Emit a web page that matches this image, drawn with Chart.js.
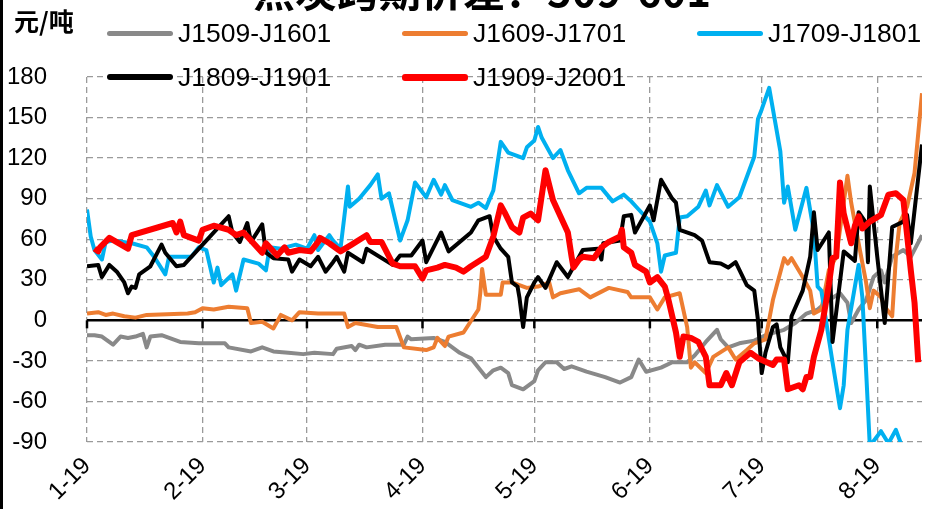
<!DOCTYPE html>
<html>
<head>
<meta charset="utf-8">
<script src="https://cdn.jsdelivr.net/npm/chart.js@4.4.1/dist/chart.umd.min.js"></script>
<style>
  body { margin: 0; background: #fff; }
  #wrap { position: relative; width: 926px; height: 509px; overflow: hidden; }
  #frame { position: absolute; left: 0; top: 0; width: 3px; height: 509px; background: #000; }
  #title { position: absolute; top: -42px; left: 0; width: 964px; text-align: center; line-height: 42px;
           font: bold 42px "Noto Sans CJK SC"; color: #000; white-space: nowrap; }
  #unit { position: absolute; left: 14px; top: 3px; font: bold 25px "Noto Sans CJK SC"; color: #000; line-height: 34px; }
  .leg { position: absolute; height: 30px; display: flex; align-items: center;
         font: 26.5px "Liberation Sans"; color: #000; white-space: nowrap; }
  .leg .line { display: inline-block; width: 66px; height: 5px; border-radius: 3px; margin-right: 5px; }
</style>
</head>
<body>
<div id="wrap">
  <canvas id="spreadChart" width="926" height="509"></canvas>
  <div id="frame"></div>
  <div id="title">焦炭跨期价差：509-601</div>
  <div id="unit">元/吨</div>
</div>
<script>
// x axis: days counted from Jan 19
const monthDays = [0, 31, 59, 90, 120, 151, 181, 212];
const monthLabels = ['1-19', '2-19', '3-19', '4-19', '5-19', '6-19', '7-19', '8-19'];

const seriesNames = ['J1509-J1601', 'J1609-J1701', 'J1709-J1801', 'J1809-J1901', 'J1909-J2001'];
const seriesColors = ['#898989', '#ED7D31', '#00B0F0', '#000000', '#FF0000'];

// J1509-J1601
const days1509 = [0,2,4,7,9,11,13,15,16,17,20,25,30,37,38,44,47,50,54,58,61,66,67,71,72,73,75,80,85,86,
  87,93,96,98,100,103,107,109,111,113,114,117,120,121,123,126,128,130,134,139,143,146,148,150,154,157,161,163,166,169,
  170,172,175,179,182,187,190,193,196,199,202,204,205,207,209,211,213,214,216,219,221,224];
const vals1509 = [-11,-11,-12,-18,-12,-13,-12,-10,-20,-12,-11,-16,-17,-17,-20,-23,-20,-23,-24,-25,-24,-25,-21,-19,-22,-18,-20,-18,-18,-12,
  -14,-13,-16,-20,-24,-28,-42,-37,-35,-39,-48,-51,-45,-37,-31,-31,-36,-34,-38,-42,-46,-42,-29,-38,-35,-31,-31,-26,-16,-7,
  -14,-20,-17,-15,-11,-7,-2,5,8,15,20,13,-2,8,15,32,37,28,47,52,47,63];

// J1609-J1701
const days1609 = [0,3,5,7,10,13,16,27,29,31,34,38,43,44,47,50,52,55,57,62,69,70,72,78,83,85,91,93,94,96,
  97,101,105,105.5,106,107,111,111.5,114,118,121,124,125,127,132,135,140,145,146,148,151,153,155,159,161,162,163,166,168,172,
  174,177,179,182,184,187,188,189,192,194,195,197,199,201,203,204,205,207,209,210,211,213,214,216,217,218,220,222,224];
const vals1609 = [5,6,4,5,3,2,4,5,6,9,8,10,9,-2,-1,-6,4,0,6,5,5,-5,-2,-5,-5,-20,-22,-20,-13,-19,
  -12,-9,8,20,38,19,19,28,28,24,25,28,17,20,23,17,24,21,17,17,17,8,17,20,-5,-35,-31,-39,-27,-20,
  -29,-22,-17,-14,15,46,42,46,32,22,5,8,37,47,87,107,87,57,28,9,22,17,10,3,47,72,84,109,168];

// J1709-J1801
const days1709 = [0,1,2,4,5,7,12,16,18,21,22,28,30,32,34,35,36,39,40,42,46,48,49,52,56,59,61,62,65,66,
  68,70,70.5,73,76,78,79,81,84,86,88,91,93,95,96,98,103,105,107,109,111,113,117,118,120,121,122,125,127,129,
  132,134,138,141,144,146,148,151,153,154,155,158,159,161,164,166,167,169,172,175,177,179,180,181,183,186,187,188,190,193,
  195,196,197,200,202,203,204,207,208,209,210,213,215,217,219];
const vals1709 = [82,62,52,45,58,59,57,54,47,34,47,47,54,52,28,39,26,34,22,45,42,37,54,53,56,53,63,52,63,59,
  53,99,84,90,100,108,90,94,59,74,102,91,104,93,100,89,84,87,83,96,132,124,120,128,133,143,135,120,126,111,
  94,98,98,88,93,88,82,73,57,36,48,50,76,77,84,96,85,100,84,91,106,121,149,156,172,125,87,99,67,98,
  65,25,22,-31,-65,-48,-7,41,17,-37,-93,-82,-91,-81,-96];

// J1809-J1901
const days1809 = [0,3,4,6,8,10,11,12,13,14,17,20,21,24,26,32,35,38,39,41,43,44,47,48,50,54,55,57,60,62,
  64,66,67,69,70,74,75,82,84,87,90,91,95,97,103,105,108,109,111,113,114,115.5,116,117,118,120,121,123,126,129,
  133,137,138,138.5,143,144,146,147,151,152,154,157,158,159,163,165,167,170,172,174,177,179,180,181,182,184,185,186,188,189,
  192,194,195,196,199,200,203,206,207,209,209.5,210,212,214,216,219,220,221,224];
const vals1809 = [40,41,32,41,36,28,20,25,24,34,40,56,50,40,41,59,68,77,65,58,72,58,71,50,46,45,36,45,40,47,
  36,43,47,36,50,43,53,41,48,48,59,43,65,51,65,74,77,62,53,47,28,25,17,-5,17,28,32,24,43,32,
  52,53,45,57,59,77,78,65,85,74,104,90,87,67,63,59,43,42,39,43,26,22,0,-39,-24,-5,-3,-20,-31,3,
  22,47,80,52,65,-16,51,44,80,72,43,99,47,-2,69,73,78,57,130];

// J1909-J2001
const days1909 = [2,3,3.5,6,11,12,23,24,25,26,30,31,34,38,40,42,44,47,48,51,53,54,57,60,62,62.5,65,68,71,75,
  76,79,82,84,88,90,91,94,96,99,101,103,107,109,111,112,114,116,117,119,121,123,125,127,129,130,130.5,132,133,136,
  138,140,143,143.5,144,146,147,150,151,153,155,156,157,158,159,160,162,164,166,167,170,171.5,173,175,178,180,184,185,187,188,
  191,192,193,194,195,197,199,200,201,202,203,205,206,207,208,210,213,215,217,219,221,222,223];
const vals1909 = [53,51,54,61,53,63,72,65,73,63,59,67,70,67,63,65,59,50,57,48,54,50,52,51,58,61,57,51,56,63,
  58,58,42,40,40,31,37,39,41,39,36,40,47,62,85,80,69,65,76,79,74,111,89,77,65,47,39,45,47,46,
  54,58,62,67,54,50,41,36,28,32,25,15,3,-9,-27,-12,-13,-16,-27,-48,-48,-39,-48,-31,-24,-28,-33,-29,-29,-51,
  -48,-51,-42,-42,-27,-7,26,46,47,102,79,57,70,77,68,73,78,93,94,89,37,13,-31];

const yTicks = { min: -90, max: 180, step: 30 };

const allDays = [days1509, days1609, days1709, days1809, days1909];
const allVals = [vals1509, vals1609, vals1709, vals1809, vals1909];
const lineWidths = [4, 4, 4, 4, 6];

const toPoints = (d, v) => d.map((day, i) => ({ x: day, y: v[i] }));

// html legend, built from the series lists
const wrap = document.getElementById('wrap');
const legLeft = [107, 402, 697];
const legTop = [18, 62];
seriesNames.forEach((name, i) => {
  let item = document.createElement('div');
  item.className = 'leg';
  item.style.left = legLeft[i % 3] + 'px';
  item.style.top = legTop[Math.floor(i / 3)] + 'px';
  item.innerHTML = `<span class="line" style="background:${seriesColors[i]};height:${i === 4 ? 7 : (i === 3 ? 6 : 5)}px"></span>${name}`;
  wrap.appendChild(item);
});

// short black marks on the zero line at every month
const zeroMarks = {
  id: 'zeroMarks',
  beforeDatasetsDraw(chart) {
    const ctx = chart.ctx;
    const xs = chart.scales.x;
    const y0 = chart.scales.y.getPixelForValue(0);
    ctx.save();
    ctx.strokeStyle = '#000';
    ctx.lineWidth = 2.5;
    monthDays.forEach(v => {
      let x = xs.getPixelForValue(v);
      ctx.beginPath();
      ctx.moveTo(x, y0);
      ctx.lineTo(x, y0 + 8);
      ctx.stroke();
    });
    ctx.restore();
  }
};

const tickFont = { family: 'Liberation Sans', size: 24 };

new Chart(document.getElementById('spreadChart'), {
  type: 'line',
  data: {
    datasets: seriesNames.map((name, i) => ({
      label: name,
      data: toPoints(allDays[i], allVals[i]),
      borderColor: seriesColors[i],
      backgroundColor: seriesColors[i],
      borderWidth: lineWidths[i],
      borderJoinStyle: 'round',
      pointRadius: 0,
      tension: 0,
      fill: false,
      order: 4 - i
    }))
  },
  options: {
    responsive: false,
    animation: false,
    layout: { padding: { top: 77, right: 4, left: 0, bottom: 0 } },
    plugins: { legend: { display: false }, tooltip: { enabled: false } },
    scales: {
      x: {
        type: 'linear',
        min: 0,
        max: 224,
        afterBuildTicks: s => { s.ticks = monthDays.map(v => ({ value: v })); },
        afterFit: s => { s.height = 67; },
        grid: { color: '#9a9a9a', lineWidth: 1.3, drawTicks: false },
        border: { display: false, dash: [6, 4] },
        ticks: {
          autoSkip: false,
          minRotation: 45,
          maxRotation: 45,
          padding: 10,
          color: '#000',
          font: tickFont,
          callback: v => monthLabels[monthDays.indexOf(v)]
        }
      },
      y: {
        min: yTicks.min,
        max: yTicks.max,
        afterFit: s => { s.width = 87; },
        grid: {
          color: c => (c.tick && c.tick.value === 0 ? '#000' : '#9a9a9a'),
          lineWidth: c => (c.tick && c.tick.value === 0 ? 2.5 : 1.3),
          drawTicks: false
        },
        border: { display: false, dash: c => (c.tick && c.tick.value === 0 ? [] : [6, 4]) },
        ticks: { stepSize: yTicks.step, padding: 40, color: '#000', font: tickFont }
      }
    }
  },
  plugins: [zeroMarks]
});
</script>
</body>
</html>
